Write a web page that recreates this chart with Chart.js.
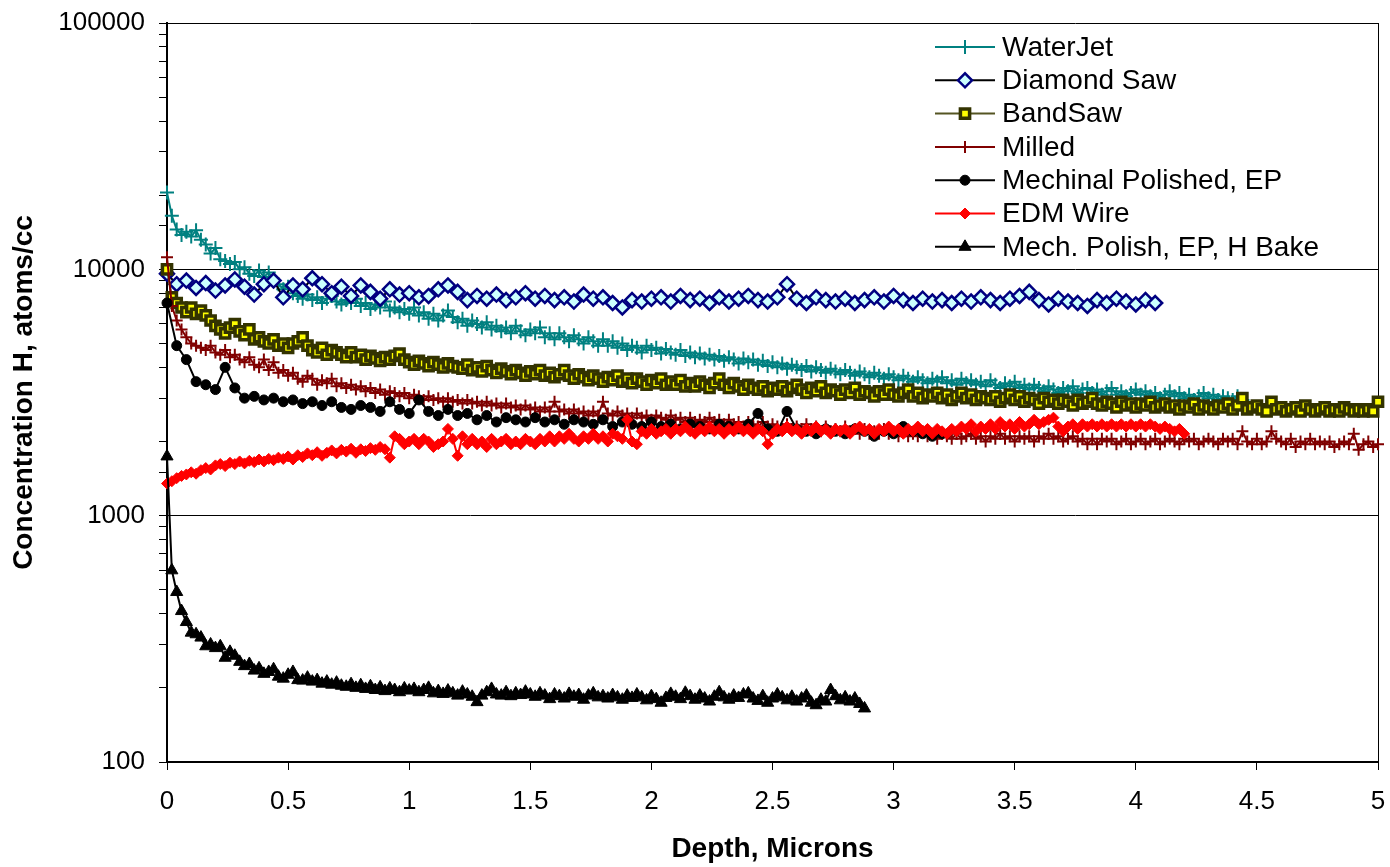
<!DOCTYPE html>
<html>
<head>
<meta charset="utf-8">
<title>Hydrogen concentration vs depth</title>
<script src="https://cdn.jsdelivr.net/npm/chart.js@4.4.1/dist/chart.umd.min.js"></script>
<style>
  html, body { margin: 0; padding: 0; background: #fff; }
  #wrap { width: 1390px; height: 867px; }
</style>
</head>
<body>
<div id="wrap"><canvas id="depthChart" width="1390" height="867"></canvas></div>
<script>
const xTicks = ['0', '0.5', '1', '1.5', '2', '2.5', '3', '3.5', '4', '4.5', '5'];
const yMajorTicks = [100, 1000, 10000, 100000];

const seriesNames = ['WaterJet', 'Diamond Saw', 'BandSaw', 'Milled',
    'Mechinal Polished, EP', 'EDM Wire', 'Mech. Polish, EP, H Bake'];

// depth between samples (microns) for each series, all start at 0
const seriesSteps = [0.02, 0.04, 0.02, 0.02, 0.04, 0.02, 0.02];

// H concentration, atoms/cc
const waterJet = [
    20500, 16500, 14500, 13800, 14200, 13600, 14400, 13200, 12600, 11600,
    12200, 11000, 10800, 10500, 10700, 10000, 10200, 9600, 9400, 9900,
    9300, 9700, 9000, 8700, 8300, 8500, 8000, 7800, 7600, 7900,
    7500, 7700, 7300, 7600, 7800, 7400, 7200, 7500, 7300, 7600,
    7100, 7300, 6900, 7200, 7000, 7400, 6800, 7000, 6700, 6900,
    6600, 7000, 6500, 6700, 6300, 6600, 6200, 6500, 6800, 6400,
    6100, 6300, 5900, 6200, 6000, 5800, 6100, 5700, 5900, 5600,
    5800, 5500, 5900, 5600, 5400, 5700, 5500, 5800, 5300, 5500,
    5200, 5500, 5300, 5100, 5400, 5200, 5000, 5300, 5100, 4900,
    5200, 4900, 5100, 4800, 5000, 4700, 4900, 4800, 4600, 4900,
    4700, 4800, 4550, 4750, 4600, 4500, 4700, 4450, 4600, 4400,
    4550, 4350, 4500, 4300, 4450, 4250, 4400, 4300, 4150, 4350,
    4200, 4300, 4100, 4250, 4050, 4200, 4000, 4150, 3950, 4100,
    4000, 3900, 4050, 3850, 4000, 3900, 3800, 3950, 3850, 3750,
    3900, 3800, 3700, 3850, 3750, 3650, 3800, 3700, 3600, 3750,
    3650, 3550, 3700, 3600, 3500, 3650, 3550, 3450, 3600, 3500,
    3650, 3450, 3550, 3400, 3600, 3450, 3550, 3400, 3500, 3350,
    3550, 3400, 3300, 3450, 3350, 3500, 3300, 3400, 3250, 3400,
    3300, 3200, 3350, 3250, 3150, 3300, 3200, 3350, 3150, 3250,
    3300, 3150, 3250, 3100, 3200, 3300, 3100, 3200, 3050, 3150,
    3250, 3100, 3200, 3050, 3150, 3000, 3100, 3200, 3050, 3150,
    3000, 3100, 2950, 3050, 3150, 3000, 3100, 2950, 3050, 3000,
    2950, 3050, 2950
];

const diamondSaw = [
    9600, 8700, 9000, 8400, 8800, 8200, 8600, 9100, 8500, 7900,
    8700, 9000, 7700, 8600, 8300, 9200, 8700, 8000, 8500, 7800,
    8600, 8100, 7600, 8300, 7900, 8000, 7700, 7800, 8300, 8600,
    8100, 7500, 7800, 7600, 7900, 7500, 7700, 8000, 7600, 7800,
    7500, 7700, 7400, 7900, 7600, 7700, 7300, 7000, 7500, 7400,
    7600, 7700, 7400, 7800, 7500, 7600, 7300, 7700, 7400, 7600,
    7800, 7500, 7400, 7700, 8700, 7600, 7300, 7700, 7500, 7400,
    7600, 7300, 7500, 7700, 7400, 7800, 7500, 7300, 7600, 7400,
    7500, 7300, 7600, 7400, 7700, 7500, 7300, 7600, 7800, 8100,
    7500, 7200, 7600, 7400, 7300, 7100, 7500, 7300, 7600, 7400,
    7200, 7500, 7300
];

const bandSaw = [
    10000, 7700, 7300, 7000, 6700, 7000, 6600, 6800, 6500, 6200,
    5900, 5700, 5500, 5800, 6000, 5600, 5400, 5700, 5200, 5300,
    5100, 5000, 5200, 4900, 5000, 4800, 5000, 5100, 5300, 4900,
    4700, 4600, 4800, 4500, 4700, 4600, 4500, 4400, 4600, 4400,
    4500, 4300, 4450, 4350, 4250, 4400, 4300, 4450, 4550, 4300,
    4200, 4100, 4250, 4150, 4050, 4200, 4100, 4000, 4150, 4050,
    4000, 3950, 4100, 3900, 4000, 3850, 4050, 3900, 3800, 3950,
    3850, 3750, 3900, 3800, 3700, 3850, 3750, 3900, 3700, 3800,
    3650, 3750, 3900, 3700, 3600, 3750, 3650, 3550, 3700, 3600,
    3500, 3650, 3550, 3700, 3500, 3600, 3450, 3600, 3500, 3400,
    3550, 3450, 3600, 3400, 3500, 3400, 3550, 3350, 3450, 3350,
    3500, 3400, 3300, 3450, 3600, 3400, 3300, 3450, 3350, 3250,
    3400, 3300, 3250, 3350, 3200, 3300, 3250, 3350, 3200, 3300,
    3400, 3250, 3150, 3300, 3200, 3350, 3150, 3250, 3200, 3100,
    3250, 3150, 3300, 3100, 3200, 3150, 3050, 3200, 3100, 3250,
    3100, 3050, 3150, 3250, 3050, 3150, 3000, 3100, 3050, 3150,
    3000, 3100, 2950, 3050, 3150, 3000, 3100, 2950, 3050, 3000,
    2950, 3050, 2900, 3000, 3100, 2950, 3050, 2900, 3000, 2950,
    2850, 3000, 2900, 2950, 2850, 2950, 2900, 2800, 2950, 2850,
    2900, 3000, 2850, 2800, 2900, 2850, 2750, 2900, 2800, 2850,
    2750, 2850, 2800, 2900, 2750, 2800, 2850, 2750, 2800, 2700,
    2800, 2750, 2850, 2700, 2800, 2750, 2700, 2800, 2750, 2850,
    2700, 2800, 3000, 2700, 2750, 2800, 2700, 2650, 2900, 2700,
    2750, 2650, 2700, 2750, 2650, 2800, 2700, 2650, 2700, 2750,
    2650, 2700, 2650, 2750, 2700, 2650, 2700, 2650, 2700, 2650,
    2900
];

const milled = [
    11200, 7100, 6200, 5700, 5300, 5000, 4900, 4800, 4700, 4900,
    4600, 4500, 4700, 4400, 4500, 4300, 4200, 4400, 4100, 4000,
    4300, 3900, 4200, 3800, 3900, 3700, 3800, 3600, 3500, 3700,
    3600, 3400, 3550, 3450, 3600, 3350, 3450, 3300, 3400, 3250,
    3350, 3200, 3300, 3150, 3250, 3100, 3200, 3150, 3050, 3150,
    3000, 3100, 3050, 2950, 3050, 2950, 3000, 2900, 3000, 2900,
    2950, 2850, 2950, 2850, 2900, 2800, 2900, 2800, 2850, 2750,
    2850, 2750, 2800, 2700, 2800, 2700, 2750, 2650, 2750, 2650,
    2900, 2650, 2700, 2600, 2700, 2600, 2650, 2550, 2650, 2550,
    2900, 2600, 2550, 2650, 2550, 2600, 2500, 2600, 2500, 2550,
    2450, 2550, 2500, 2450, 2550, 2450, 2500, 2400, 2500, 2400,
    2450, 2400, 2500, 2400, 2450, 2350, 2450, 2350, 2400, 2300,
    2400, 2350, 2300, 2400, 2300, 2350, 2300, 2250, 2350, 2250,
    2300, 2250, 2350, 2250, 2300, 2200, 2300, 2200, 2250, 2200,
    2300, 2200, 2250, 2150, 2250, 2150, 2200, 2150, 2250, 2150,
    2200, 2100, 2200, 2100, 2150, 2100, 2200, 2100, 2150, 2050,
    2150, 2100, 2050, 2150, 2050, 2100, 2150, 2050, 2100, 2000,
    2100, 2050, 2150, 2050, 2100, 2000, 2100, 2050, 2100, 2000,
    2100, 2050, 2150, 2050, 2100, 2000, 2050, 2100, 2000, 2050,
    1950, 2050, 1950, 2050, 2000, 2050, 1950, 2000, 2050, 1950,
    2000, 2050, 1950, 2000, 2050, 1950, 2000, 2050, 2000, 1950,
    2050, 2000, 2050, 1950, 2000, 2050, 2000, 1950, 2050, 2000,
    2050, 1950, 2200, 2000, 1950, 2050, 1950, 2000, 2200, 2050,
    2000, 1950, 2050, 1900, 2000, 1950, 2050, 1950, 2000, 1950,
    2000, 1900, 1950, 2000, 1950, 2150, 1850, 1950, 2000, 1900,
    1950
];

const mechPolished = [
    7300, 4900, 4300, 3500, 3400, 3250, 4000, 3300, 3000, 3050,
    2950, 3000, 2900, 2950, 2850, 2900, 2800, 2900, 2750, 2700,
    2800, 2750, 2650, 2900, 2700, 2600, 2950, 2650, 2550, 2700,
    2550, 2600, 2450, 2550, 2400, 2500, 2450, 2400, 2500, 2400,
    2450, 2350, 2450, 2400, 2350, 2450, 2300, 2400, 2350, 2300,
    2400, 2300, 2350, 2250, 2350, 2300, 2250, 2350, 2300, 2250,
    2350, 2600, 2250, 2200, 2650, 2250, 2200, 2150, 2250, 2200,
    2150, 2250, 2200, 2100, 2200, 2150, 2300, 2200, 2150, 2100,
    2150
];

const edmWire = [
    1350, 1380, 1420, 1450, 1470, 1500, 1480, 1530, 1560, 1540,
    1600, 1620, 1590, 1640, 1620, 1660, 1630, 1670, 1650, 1690,
    1660, 1700, 1680, 1720, 1700, 1740, 1690, 1760, 1730, 1790,
    1760, 1810, 1750, 1800, 1840, 1790, 1850, 1820, 1870, 1800,
    1860, 1830, 1880, 1850, 1900, 1860, 1720, 2100, 2050, 1950,
    2000, 2050, 1950, 2050, 2000, 1900, 1950, 2000, 2250, 2050,
    1750, 2100, 1950, 2050, 1950, 2000, 1900, 2050, 1950, 2000,
    2050, 1950, 2000, 1950, 2050, 2000, 1950, 2050, 2000, 2100,
    2000, 2100, 2050, 2150, 2050, 2000, 2100, 2050, 2150, 2050,
    2100, 2000, 2150, 2100, 2050, 2450, 2000, 1950, 2200, 2150,
    2250, 2150, 2200, 2250, 2150, 2250, 2200, 2300, 2200, 2150,
    2250, 2200, 2300, 2200, 2250, 2150, 2250, 2200, 2300, 2200,
    2250, 2150, 2250, 2200, 1950, 2150, 2250, 2200, 2300, 2200,
    2250, 2150, 2250, 2200, 2300, 2200, 2250, 2150, 2250, 2200,
    2250, 2150, 2250, 2300, 2200, 2250, 2150, 2250, 2200, 2300,
    2200, 2250, 2150, 2250, 2200, 2300, 2200, 2250, 2150, 2250,
    2200, 2150, 2250, 2200, 2300, 2250, 2350, 2200, 2300, 2250,
    2350, 2250, 2400, 2300, 2350, 2250, 2400, 2300, 2350, 2450,
    2350, 2400, 2450, 2500, 2300, 2200, 2300, 2350, 2250, 2350,
    2300, 2350, 2300, 2350, 2300, 2350, 2300, 2350, 2300, 2350,
    2300, 2350, 2300, 2350, 2300, 2250, 2300, 2250, 2200, 2250,
    2150
];

const hBake = [
    1740, 600, 490, 410, 370, 335, 330, 320, 295, 300,
    290, 295, 265, 280, 270, 255, 245, 250, 235, 240,
    228, 232, 238, 222, 218, 226, 232, 215, 214, 220,
    212, 215, 208, 212, 206, 210, 204, 202, 207, 200,
    205, 198, 203, 196, 201, 194, 199, 196, 192, 199,
    195, 198, 192, 196, 200, 190, 194, 189, 195, 190,
    186, 193, 188, 184, 175, 186, 192, 198, 188, 186,
    192, 185, 190, 187, 193, 188, 184, 190, 186, 180,
    188, 185, 181, 189, 184, 187, 179, 186, 190, 183,
    185, 181, 187, 183, 179, 186, 182, 188, 183, 178,
    185, 180, 174, 182, 189, 184, 180, 191, 185, 179,
    186, 181, 176, 184, 192, 183, 179, 186, 182, 188,
    190, 181, 177, 185, 174, 181, 188, 183, 178, 184,
    176, 181, 186, 174, 170, 179, 176, 196, 185, 178,
    183, 176, 181, 172, 165
];

const seriesValues = [waterJet, diamondSaw, bandSaw, milled, mechPolished, edmWire, hBake];

// marker / line look of each series, same order as seriesNames
const seriesStyles = [
    { line: '#008080', style: 'cross', radius: 7, fill: '#008080', edge: '#008080', edgeWidth: 2 },
    { line: '#000000', style: 'rectRot', radius: 7, fill: '#CCFFFF', edge: '#000080', edgeWidth: 2.5 },
    { line: '#555522', style: 'rect', radius: 6.5, fill: '#FFFF00', edge: '#333300', edgeWidth: 3.5 },
    { line: '#800000', style: 'cross', radius: 6, fill: '#800000', edge: '#800000', edgeWidth: 2 },
    { line: '#000000', style: 'circle', radius: 5, fill: '#000000', edge: '#000000', edgeWidth: 1 },
    { line: '#FF0000', style: 'rectRot', radius: 5.5, fill: '#FF0000', edge: '#FF0000', edgeWidth: 1 },
    { line: '#000000', style: 'triangle', radius: 7, fill: '#000000', edge: '#000000', edgeWidth: 1 }
];

const FONT = 'Arial, "Liberation Sans", Helvetica, sans-serif';

function toPoints(values, step) {
    return values.map((v, i) => ({ x: Math.round(i * step * 100) / 100, y: v }));
}

function isDecade(v) {
    const l = Math.log10(v);
    return Math.abs(l - Math.round(l)) < 1e-9;
}

const datasets = seriesNames.map((name, i) => {
    const s = seriesStyles[i];
    return {
        label: name,
        data: toPoints(seriesValues[i], seriesSteps[i]),
        borderColor: s.line,
        backgroundColor: s.fill,
        borderWidth: 2,
        pointStyle: s.style,
        pointRadius: s.radius,
        pointHoverRadius: s.radius,
        pointBackgroundColor: s.fill,
        pointBorderColor: s.edge,
        pointBorderWidth: s.edgeWidth,
        tension: 0,
        clip: false,
        // later series are painted over earlier ones
        order: seriesNames.length - i
    };
});

// legend drawn inside the plot, top right
const insideLegend = {
    id: 'insideLegend',
    afterDraw(chart) {
        const ctx = chart.ctx;
        const top = 47, row = 33.3, lineStart = 935, lineEnd = 995, textX = 1002;
        ctx.save();
        chart.data.datasets.forEach((ds, i) => {
            const y = top + i * row;
            ctx.strokeStyle = ds.borderColor;
            ctx.lineWidth = 2;
            ctx.beginPath();
            ctx.moveTo(lineStart, y);
            ctx.lineTo(lineEnd, y);
            ctx.stroke();

            ctx.fillStyle = ds.pointBackgroundColor;
            ctx.strokeStyle = ds.pointBorderColor;
            ctx.lineWidth = ds.pointBorderWidth;
            Chart.helpers.drawPoint(ctx, {
                pointStyle: ds.pointStyle,
                radius: ds.pointRadius,
                rotation: 0,
                borderWidth: ds.pointBorderWidth
            }, (lineStart + lineEnd) / 2, y);

            ctx.fillStyle = '#000';
            ctx.font = '28px ' + FONT;
            ctx.textAlign = 'left';
            ctx.textBaseline = 'middle';
            ctx.fillText(ds.label, textX, y + 1);
        });
        ctx.restore();
    }
};

new Chart(document.getElementById('depthChart').getContext('2d'), {
    type: 'line',
    data: { datasets: datasets },
    plugins: [insideLegend],
    options: {
        responsive: false,
        animation: false,
        events: [],
        layout: { padding: { top: 23, right: 12, left: 0, bottom: 0 } },
        plugins: {
            legend: { display: false },
            tooltip: { enabled: false }
        },
        scales: {
            x: {
                type: 'linear',
                min: 0,
                max: 5,
                afterFit: scale => {
                    scale.height = 105;
                    scale.paddingLeft = 0;
                    scale.paddingRight = 0;
                },
                afterBuildTicks: scale => {
                    scale.ticks = xTicks.map(t => ({ value: parseFloat(t) }));
                },
                ticks: {
                    autoSkip: false,
                    maxRotation: 0,
                    padding: 16,
                    color: '#000',
                    font: { family: FONT, size: 26 },
                    callback: value => xTicks.find(t => parseFloat(t) === value) || ''
                },
                grid: {
                    drawOnChartArea: true,
                    color: ctx => (ctx.tick && ctx.tick.value === 5) ? '#000' : 'rgba(0,0,0,0)',
                    tickColor: '#000',
                    tickLength: 8,
                    lineWidth: 1
                },
                border: { color: '#000', width: 2 },
                title: {
                    display: true,
                    text: 'Depth, Microns',
                    color: '#000',
                    font: { family: FONT, size: 28, weight: 'bold' },
                    padding: { top: 0, bottom: 1 }
                }
            },
            y: {
                type: 'logarithmic',
                min: 100,
                max: 100000,
                afterFit: scale => {
                    scale.width = 167;
                    scale.paddingTop = 0;
                    scale.paddingBottom = 0;
                },
                ticks: {
                    autoSkip: false,
                    padding: 14,
                    color: '#000',
                    font: { family: FONT, size: 26 },
                    callback: value => yMajorTicks.includes(value) ? String(value) : ''
                },
                grid: {
                    color: ctx => (ctx.tick && isDecade(ctx.tick.value)) ? '#000' : 'rgba(0,0,0,0)',
                    tickColor: '#000',
                    tickLength: 8,
                    lineWidth: 1
                },
                border: { color: '#000', width: 2 },
                title: {
                    display: true,
                    text: 'Concentration H, atoms/cc',
                    color: '#000',
                    font: { family: FONT, size: 28, weight: 'bold' },
                    padding: { top: 7, bottom: 0 }
                }
            }
        }
    }
});
</script>
</body>
</html>
